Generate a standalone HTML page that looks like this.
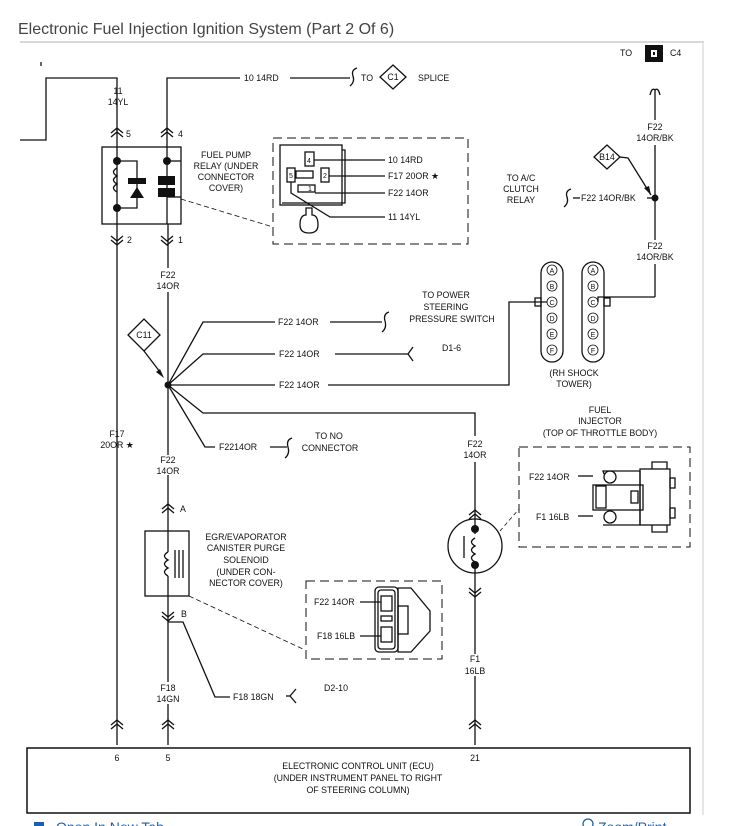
<!DOCTYPE html>
<html><head><meta charset="utf-8"><style>
html,body{margin:0;padding:0;background:#fff;}
svg{display:block;}
text{font-family:"Liberation Sans",sans-serif;font-size:8.8px;fill:#111;}
.t{text-anchor:middle;}
</style></head><body>
<svg width="750" height="826" viewBox="0 0 750 826" xmlns="http://www.w3.org/2000/svg">
<text x="18" y="34" style="font-size:16px;fill:#444">Electronic Fuel Injection Ignition System (Part 2 Of 6)</text>
<line x1="20" y1="42" x2="704" y2="42" stroke="#ccc" stroke-width="1.5"/>
<line x1="703" y1="42" x2="703" y2="815" stroke="#ddd" stroke-width="1.5"/>
<g stroke="#111" stroke-width="1.3" fill="none">
<polyline points="20,140 46,140 46,78 117,78 117,131"/>
<line x1="41" y1="62" x2="41" y2="66"/>
<polyline points="167,131 167,78 240,78"/>
<line x1="290" y1="78" x2="350" y2="78"/>
<path d="M357,68 q-6,2 -4,8 q2,6 -3,10"/>
<polygon points="380,77 393,65 406,77 393,89"/>
<path d="M111,133 l6,-5 l6,5 M111,137 l6,-5 l6,5"/>
<path d="M161,133 l6,-5 l6,5 M161,137 l6,-5 l6,5"/>
<line x1="117" y1="128" x2="117" y2="147"/>
<line x1="167" y1="128" x2="167" y2="147"/>
<rect x="102" y="147" width="79" height="77"/>
<polyline points="117,147 117,224"/>
<polyline points="117,161 137,161 137,208 117,208"/>
<path d="M117,168 q-7,4 0,8 q-7,4 0,8 q-7,4 0,8"/>
<line x1="167" y1="147" x2="167" y2="224"/>
<line x1="167" y1="161" x2="181" y2="161"/>
<line x1="167" y1="197" x2="181" y2="197"/>
<path d="M111,236 l6,5 l6,-5 M111,240 l6,5 l6,-5"/>
<path d="M161,236 l6,5 l6,-5 M161,240 l6,5 l6,-5"/>
<line x1="117" y1="224" x2="117" y2="745"/>
<line x1="168" y1="224" x2="168" y2="268"/>
<line x1="168" y1="292" x2="168" y2="455"/>
<line x1="168" y1="475" x2="168" y2="531"/>
<line x1="181" y1="199" x2="273" y2="227" stroke-dasharray="5,3" stroke-width="0.8"/>
<rect x="273" y="138" width="195" height="106" stroke-dasharray="9,5" stroke-width="1"/>
<rect x="280" y="145" width="62" height="60"/>
<polyline points="342,150 345,150 345,203 282,203"/>
<rect x="305" y="152" width="9" height="14"/>
<rect x="287" y="168" width="8" height="14"/>
<rect x="296" y="171" width="17" height="7"/>
<rect x="321" y="168" width="8" height="14"/>
<rect x="298" y="185" width="17" height="7"/>
<line x1="314" y1="160" x2="385" y2="160"/>
<line x1="329" y1="176" x2="385" y2="176"/>
<line x1="315" y1="193" x2="385" y2="193"/>
<polyline points="291,182 291,193 330,217 385,217"/>
<path d="M300,225 q0,-10 6,-10 l0,-7 l6,0 l0,7 q6,0 6,10 q0,8 -9,8 q-9,0 -9,-8z"/>
<path d="M650,95 q2,-8 5,-5 q3,-3 5,5"/>
<line x1="655" y1="90" x2="655" y2="120"/>
<line x1="655" y1="145" x2="655" y2="240"/>
<line x1="655" y1="264" x2="655" y2="297"/>
<polyline points="655,297 598,297 598,302"/>
<polygon points="594,157 607,145 620,157 607,169"/>
<polyline points="620,157 628,158 651,195"/>
<line x1="573" y1="198" x2="580" y2="198"/>
<line x1="647" y1="198" x2="655" y2="198"/>
<path d="M571,189 q-6,2 -4,8 q2,6 -3,10"/>
<rect x="541" y="262" width="22" height="100" rx="11"/>
<rect x="582" y="262" width="22" height="100" rx="11"/>
<rect x="535" y="298" width="6" height="8"/>
<rect x="604" y="298" width="6" height="8"/>
<polyline points="547,302 509,302 509,385 328,385"/>
<line x1="168" y1="385" x2="275" y2="385"/>
<polyline points="168,385 203,322 275,322"/>
<line x1="330" y1="322" x2="382" y2="322"/>
<path d="M389,312 q-6,2 -4,9 q2,7 -3,11"/>
<polyline points="168,385 203,354 275,354"/>
<line x1="335" y1="354" x2="408" y2="354"/>
<path d="M413,347 l-5,7 l5,7"/>
<polyline points="168,385 203,413 475,413 475,436"/>
<line x1="475" y1="462" x2="475" y2="512"/>
<polyline points="168,385 205,447 215,447"/>
<line x1="270" y1="447" x2="287" y2="447"/>
<path d="M292,438 q-6,2 -4,9 q2,7 -3,11"/>
<polygon points="128,335 144,319 160,335 144,351"/>
<polyline points="144,351 160,372"/>
<path d="M162,509 l6,-5 l6,5 M162,513 l6,-5 l6,5"/>
<rect x="145" y="531" width="44" height="65"/>
<line x1="168" y1="531" x2="168" y2="552"/>
<path d="M168,552 q-7,4 0,8 q-7,4 0,8 q-7,4 0,8"/>
<line x1="168" y1="576" x2="168" y2="596"/>
<line x1="175" y1="550" x2="175" y2="578"/><line x1="179" y1="550" x2="179" y2="578"/><line x1="183" y1="550" x2="183" y2="578"/>
<line x1="168" y1="596" x2="168" y2="682"/>
<path d="M162,612 l6,5 l6,-5 M162,616 l6,5 l6,-5"/>
<line x1="168" y1="704" x2="168" y2="745"/>
<polyline points="168,622 183,622 215,697 230,697"/>
<path d="M296,689 l-6,7 l6,7"/>
<line x1="286" y1="696" x2="290" y2="696"/>
<line x1="189" y1="596" x2="305" y2="650" stroke-dasharray="5,3" stroke-width="0.8"/>
<rect x="306" y="581" width="136" height="78" stroke-dasharray="9,5" stroke-width="1"/>
<rect x="375" y="587" width="23" height="65" rx="4"/>
<rect x="378" y="590" width="17" height="59" rx="3"/>
<polygon points="398,588 411,588 430,611 430,631 411,652 398,652"/>
<line x1="360" y1="602" x2="381" y2="602"/>
<line x1="360" y1="636" x2="381" y2="636"/>
<rect x="381" y="596" width="11" height="15"/>
<rect x="381" y="627" width="11" height="15"/>
<rect x="381" y="616" width="11" height="5"/>
<rect x="398" y="606" width="10" height="28"/>
<path d="M469,515 l6,-5 l6,5 M469,519 l6,-5 l6,5"/>
<circle cx="475" cy="546" r="27"/>
<line x1="475" y1="512" x2="475" y2="534"/>
<path d="M475,538 q-7,4 0,8 q-7,4 0,8 q-7,4 0,8"/>
<line x1="475" y1="562" x2="475" y2="594"/>
<line x1="464" y1="536" x2="464" y2="558"/>
<path d="M469,588 l6,5 l6,-5 M469,592 l6,5 l6,-5"/>
<line x1="475" y1="594" x2="475" y2="654"/>
<line x1="475" y1="676" x2="475" y2="745"/>
<line x1="500" y1="531" x2="519" y2="509" stroke-dasharray="4,3" stroke-width="0.8"/>
<rect x="519" y="447" width="171" height="100" stroke-dasharray="9,5" stroke-width="1"/>
<polyline points="578,476 593,476"/>
<polyline points="578,516 593,516"/>
<circle cx="610" cy="477" r="6"/><circle cx="610" cy="517" r="6"/>
<polyline points="604,474 603,471 617,471 640,471 640,525 603,525"/>
<rect x="593" y="485" width="50" height="25"/>
<rect x="596" y="486" width="10" height="22"/>
<rect x="631" y="491" width="7" height="12"/>
<rect x="640" y="469" width="30" height="56"/>
<polyline points="652,469 652,462 667,462 667,469"/>
<polyline points="652,525 652,532 667,532 667,525"/>
<rect x="670" y="478" width="5" height="10"/>
<rect x="670" y="508" width="5" height="10"/>
<path d="M111,725 l6,-5 l6,5 M111,729 l6,-5 l6,5"/>
<path d="M162,725 l6,-5 l6,5 M162,729 l6,-5 l6,5"/>
<path d="M469,725 l6,-5 l6,5 M469,729 l6,-5 l6,5"/>
<rect x="27" y="748" width="663" height="65" stroke-width="1.5"/>
</g>
<g fill="#111">
<circle cx="117" cy="161" r="4"/><circle cx="117" cy="208" r="4"/>
<circle cx="167" cy="161" r="4"/>
<rect x="158" y="176" width="17" height="9"/><rect x="158" y="188" width="17" height="9"/>
<rect x="128" y="178" width="18" height="6"/>
<polygon points="130,198 144,198 137,187"/>
<circle cx="655" cy="198" r="3.5"/>
<polygon points="651,195 644,188 649,186"/>
<circle cx="168" cy="385" r="3.5"/>
<polygon points="164,378 156,372 160,369"/>
<circle cx="475" cy="529" r="4"/><circle cx="475" cy="565" r="4"/>
<rect x="645" y="45" width="18" height="17"/>
</g>
<rect x="651" y="50" width="6" height="7" fill="#fff"/>
<rect x="653" y="52" width="2" height="3" fill="#111"/>
<g>
<g stroke="#111" fill="none" stroke-width="0.8">
<circle cx="552" cy="270" r="5"/><circle cx="552" cy="286" r="5"/><circle cx="552" cy="302" r="5"/><circle cx="552" cy="318" r="5"/><circle cx="552" cy="334" r="5"/><circle cx="552" cy="350" r="5"/>
<circle cx="593" cy="270" r="5"/><circle cx="593" cy="286" r="5"/><circle cx="593" cy="302" r="5"/><circle cx="593" cy="318" r="5"/><circle cx="593" cy="334" r="5"/><circle cx="593" cy="350" r="5"/>
</g>
<text class="t" x="552" y="273" style="font-size:7px">A</text><text class="t" x="552" y="289" style="font-size:7px">B</text><text class="t" x="552" y="305" style="font-size:7px">C</text><text class="t" x="552" y="321" style="font-size:7px">D</text><text class="t" x="552" y="337" style="font-size:7px">E</text><text class="t" x="552" y="353" style="font-size:7px">F</text>
<text class="t" x="593" y="273" style="font-size:7px">A</text><text class="t" x="593" y="289" style="font-size:7px">B</text><text class="t" x="593" y="305" style="font-size:7px">C</text><text class="t" x="593" y="321" style="font-size:7px">D</text><text class="t" x="593" y="337" style="font-size:7px">E</text><text class="t" x="593" y="353" style="font-size:7px">F</text>
</g>
<text class="t" x="118" y="94">11</text><text class="t" x="118" y="105">14YL</text>
<text x="244" y="81">10  14RD</text>
<text x="361" y="81">TO</text><text class="t" x="393" y="80">C1</text><text x="418" y="81">SPLICE</text>
<text x="126" y="137">5</text><text x="178" y="137">4</text>
<text class="t" x="226" y="158">FUEL PUMP</text><text class="t" x="226" y="169">RELAY (UNDER</text><text class="t" x="226" y="180">CONNECTOR</text><text class="t" x="226" y="191">COVER)</text>
<text x="127" y="243">2</text><text x="178" y="243">1</text>
<text class="t" x="309" y="163" style="font-size:7px">4</text><text class="t" x="291" y="178" style="font-size:7px">5</text><text class="t" x="325" y="178" style="font-size:7px">2</text><text class="t" x="310" y="191" style="font-size:7px">1</text>
<text x="388" y="163">10  14RD</text><text x="388" y="179">F17  20OR ★</text><text x="388" y="196">F22  14OR</text><text x="388" y="220">11  14YL</text>
<text class="t" x="521" y="181">TO A/C</text><text class="t" x="521" y="192">CLUTCH</text><text class="t" x="521" y="203">RELAY</text>
<text x="620" y="56">TO</text><text x="670" y="56">C4</text>
<text class="t" x="655" y="130">F22</text><text class="t" x="655" y="141">14OR/BK</text>
<text class="t" x="607" y="160">B14</text>
<text x="581" y="201">F22  14OR/BK</text>
<text class="t" x="655" y="249">F22</text><text class="t" x="655" y="260">14OR/BK</text>
<text class="t" x="168" y="278">F22</text><text class="t" x="168" y="289">14OR</text>
<text class="t" x="446" y="298">TO POWER</text><text class="t" x="446" y="310">STEERING</text><text class="t" x="452" y="322">PRESSURE SWITCH</text>
<text x="278" y="325">F22  14OR</text><text x="279" y="357">F22  14OR</text><text x="279" y="388">F22 14OR</text>
<text x="442" y="351">D1-6</text>
<text class="t" x="144" y="338">C11</text>
<text class="t" x="574" y="376">(RH SHOCK</text><text class="t" x="574" y="387">TOWER)</text>
<text class="t" x="600" y="413">FUEL</text><text class="t" x="600" y="424">INJECTOR</text><text class="t" x="600" y="436">(TOP OF THROTTLE BODY)</text>
<text class="t" x="117" y="437">F17</text><text class="t" x="117" y="448">20OR ★</text>
<text x="219" y="450">F2214OR</text>
<text class="t" x="329" y="439">TO NO</text><text class="t" x="330" y="451">CONNECTOR</text>
<text class="t" x="475" y="447">F22</text><text class="t" x="475" y="458">14OR</text>
<text class="t" x="168" y="463">F22</text><text class="t" x="168" y="474">14OR</text>
<text x="529" y="480">F22  14OR</text><text x="536" y="520">F1  16LB</text>
<text x="180" y="512">A</text><text x="181" y="617">B</text>
<text class="t" x="246" y="540">EGR/EVAPORATOR</text><text class="t" x="246" y="551">CANISTER PURGE</text><text class="t" x="246" y="563">SOLENOID</text><text class="t" x="246" y="575">(UNDER CON-</text><text class="t" x="246" y="586">NECTOR COVER)</text>
<text x="314" y="605">F22  14OR</text><text x="317" y="639">F18  16LB</text>
<text class="t" x="475" y="662">F1</text><text class="t" x="475" y="674">16LB</text>
<text class="t" x="168" y="691">F18</text><text class="t" x="168" y="702">14GN</text>
<text x="233" y="700">F18  18GN</text>
<text x="324" y="691">D2-10</text>
<text class="t" x="117" y="761">6</text><text class="t" x="168" y="761">5</text><text class="t" x="475" y="761">21</text>
<text class="t" x="358" y="769">ELECTRONIC CONTROL UNIT (ECU)</text>
<text class="t" x="358" y="781">(UNDER INSTRUMENT PANEL TO RIGHT</text>
<text class="t" x="358" y="793">OF STEERING COLUMN)</text>
<rect x="34" y="822" width="10" height="6" fill="#1a5fb4"/>
<text x="56" y="832" style="font-size:14px;fill:#1a5fb4">Open In New Tab</text>
<circle cx="588" cy="824" r="5" fill="none" stroke="#1a5fb4" stroke-width="1.3"/>
<text x="598" y="832" style="font-size:14px;fill:#1a5fb4">Zoom/Print</text>
</svg>
</body></html>
